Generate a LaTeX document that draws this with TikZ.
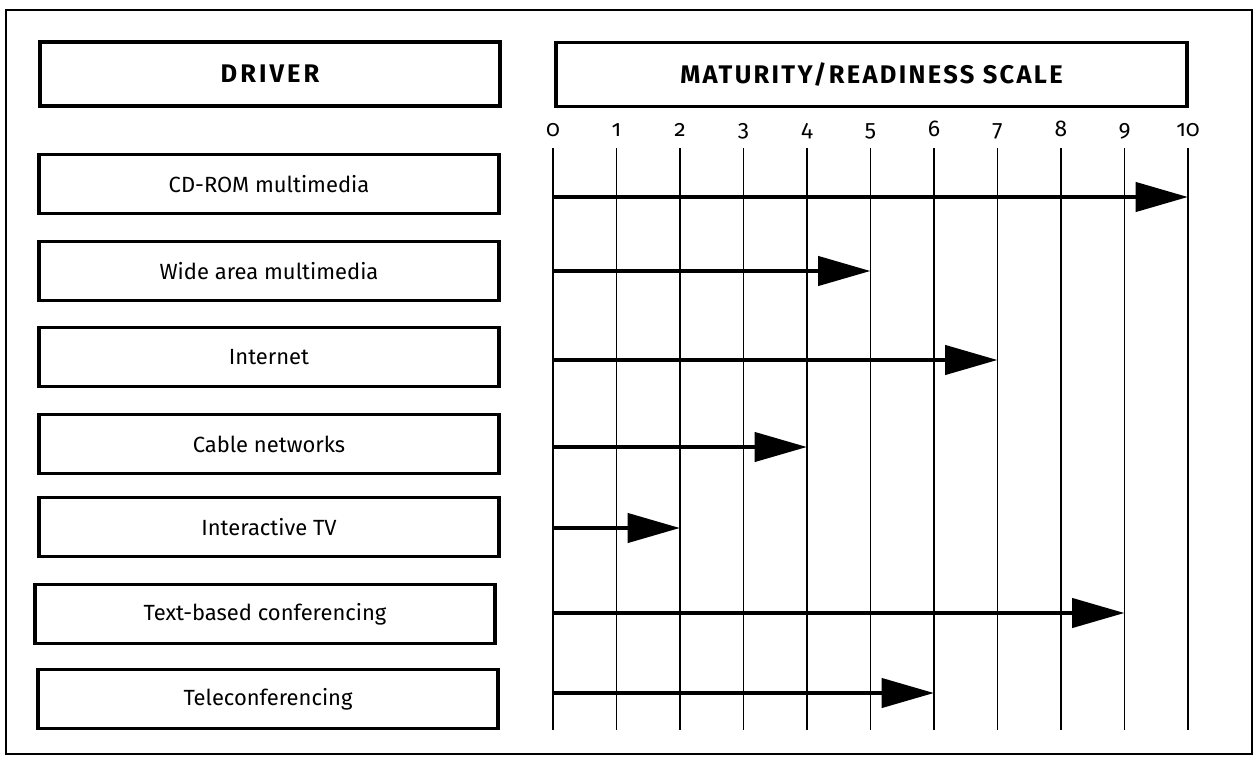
\documentclass[tikz,border=0pt]{standalone}
\usepackage{fontspec}
\setmainfont[Numbers=OldStyle]{Fira Sans}
\usetikzlibrary{arrows.meta}

\begin{document}
\begin{tikzpicture}[x=0.2mm,y=-0.2mm,
    headbox/.style={draw,line width=0.65mm,inner sep=0pt,minimum height=12.8mm,
      font=\fontsize{14.5}{16}\selectfont\bfseries\addfontfeatures{LetterSpace=9}},
    rowbox/.style={draw,line width=0.65mm,inner sep=0pt,minimum width=92mm,minimum height=11.8mm,
      font=\fontsize{12.5}{14}\selectfont},
    bar/.style={line width=0.9mm,-{Triangle[length=10.5mm,width=5.8mm]}}]
        \useasboundingbox (0,0) rectangle (1255,759) ;
        \draw[line width=0.4mm] (6,10) rectangle (1252,754) ;
        % headings
        \node[headbox,minimum width=92mm] (driver) at (270,74) {\addfontfeatures{LetterSpace=12}DRIVER} ;
        \node[headbox,minimum width=126.2mm] (scale) at (871.5,74.5) {MATURITY/READINESS SCALE} ;
        % scale lines
        \foreach \i in {0,...,10} {
            \coordinate (t\i) at (553+63.5*\i,148) ;
            \draw[line width=0.35mm] (t\i) -- ++(0,582) ;
            \node[anchor=base,font=\fontsize{13}{14}\selectfont] at (553+63.5*\i,137) {\i} ;
        }
        % drivers and their arrows
        \foreach \nm/\xb/\yb/\ya/\v/\txt in {cdrom/269/184/197/10/CD-ROM multimedia,
                wide/269/271/271/5/Wide area multimedia,
                internet/269/357/360/7/Internet,
                cable/269/444/447/4/Cable networks,
                itv/269/527/528/2/Interactive TV,
                textconf/265/614/613/9/Text-based conferencing,
                teleconf/268/699/693/6/Teleconferencing} {
            \node[rowbox] (\nm) at (\xb,\yb) {\txt} ;
            \coordinate (\nm end) at (553+63.5*\v,\ya) ;
            \draw[bar] (\nm end -| t0) -- (\nm end) ;
        }
    \end{tikzpicture}
\end{document}
